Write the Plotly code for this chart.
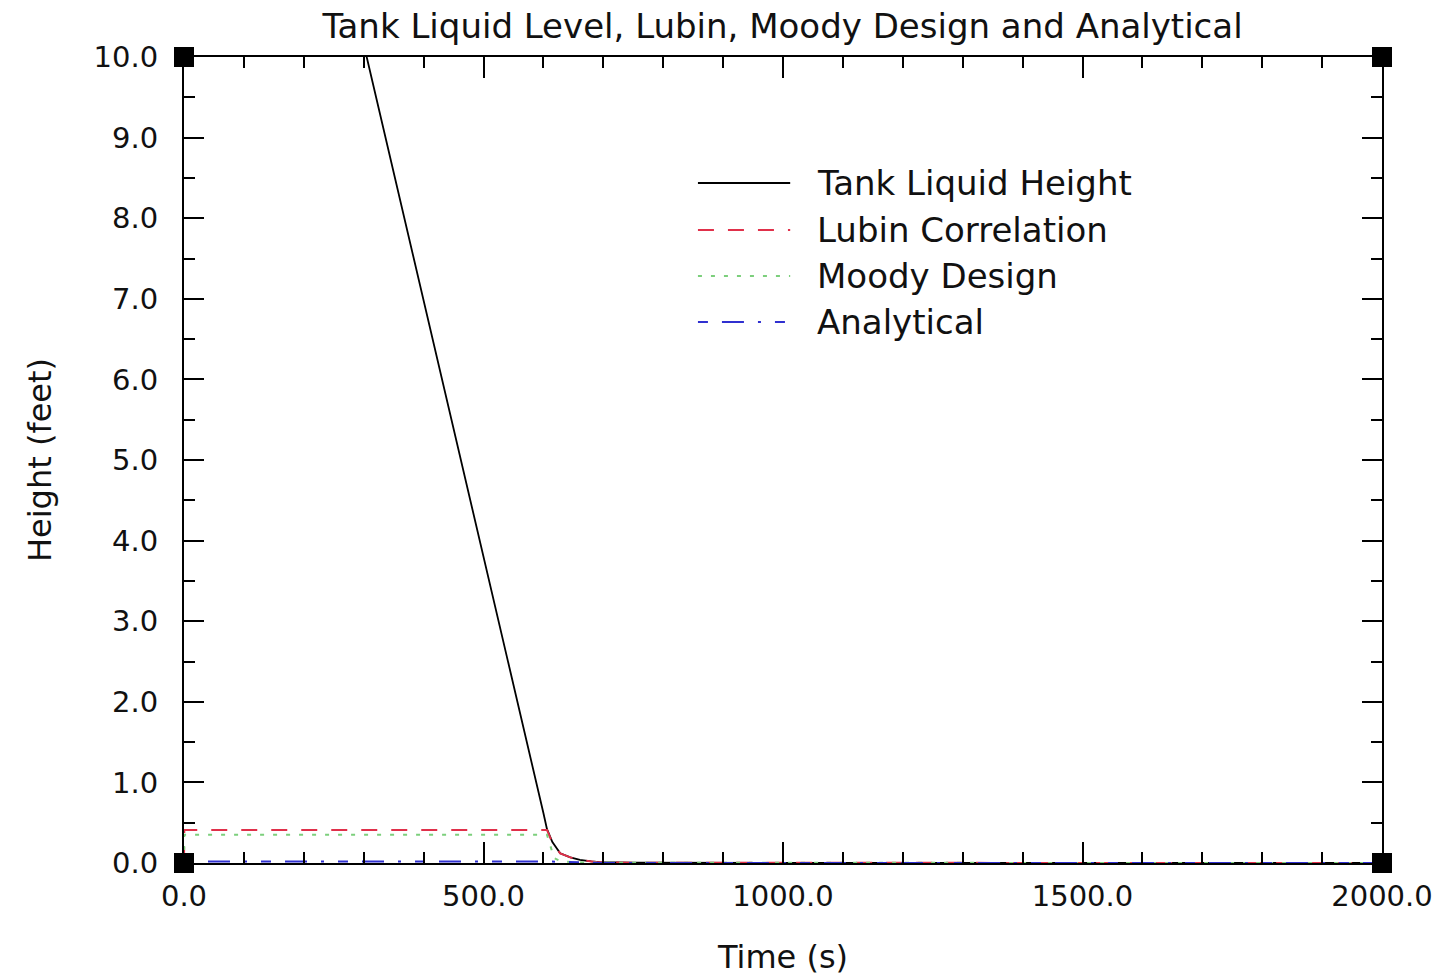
import plotly.graph_objects as go

# ---- data ----
time_tank = [0, 305, 600, 606, 615, 628, 645, 661, 680, 694, 750, 2000]
height_tank = [19.6, 10.0, 0.62, 0.42, 0.26, 0.12, 0.07, 0.04, 0.02, 0.01, 0.003, 0.0]

time_lubin = [0, 0.5, 606, 615, 628, 645, 661, 690, 750, 2000]
height_lubin = [0.0, 0.41, 0.41, 0.25, 0.12, 0.07, 0.04, 0.01, 0.003, 0.0]

time_moody = [0, 0.5, 606, 611, 618, 630, 660, 700, 2000]
height_moody = [0.0, 0.35, 0.35, 0.22, 0.06, 0.02, 0.008, 0.003, 0.0]

time_analytical = [0, 600, 700, 2000]
height_analytical = [0.02, 0.02, 0.0, 0.0]

series_names = ["Tank Liquid Height", "Lubin Correlation", "Moody Design", "Analytical"]
series_colors = ["#000000", "#e0304a", "#7ccf7c", "#3030d0"]
series_dash = ["solid", "16px,14px", "4px,9px", "10px,14px,22px,14px,3px,14px"]

x_ticks = [0, 500, 1000, 1500, 2000]
y_ticks = [0, 1, 2, 3, 4, 5, 6, 7, 8, 9, 10]

FONT = "DejaVu Sans"

fig = go.Figure()
for tx, hy, name, col, dash in zip(
    [time_tank, time_lubin, time_moody, time_analytical],
    [height_tank, height_lubin, height_moody, height_analytical],
    series_names, series_colors, series_dash,
):
    fig.add_trace(go.Scatter(x=tx, y=hy, mode="lines", name=name,
                             line=dict(color=col, width=1.8 if col == "#000000" else 2, dash=dash),
                             showlegend=False))

# manual legend (long line samples as in the reference)
leg_y = [0.8437, 0.7854, 0.7283, 0.6712]
shapes = []
annotations = []
for yy, name, col, dash in zip(leg_y, series_names, series_colors, series_dash):
    shapes.append(dict(type="line", xref="paper", yref="paper", x0=0.429, x1=0.506, y0=yy, y1=yy,
                       line=dict(color=col, width=2, dash=dash)))
    annotations.append(dict(xref="paper", yref="paper", x=0.527, y=yy, text=name, showarrow=False,
                            xanchor="left", yanchor="middle", font=dict(family=FONT, size=34, color="#111")))

# corner squares
for cx in (0, 1):
    for cy in (0, 1):
        shapes.append(dict(type="rect", xref="paper", yref="paper", xsizemode="pixel", ysizemode="pixel",
                           xanchor=cx, yanchor=cy, x0=-10, x1=10, y0=-10, y1=10,
                           fillcolor="black", line=dict(width=0)))

axis_common = dict(showgrid=False, zeroline=False, showline=True, linecolor="black", linewidth=2,
                   mirror="ticks", ticks="inside", tickcolor="black", tickwidth=2, automargin=False,
                   tickfont=dict(family=FONT, size=29, color="#111"), tickformat=".1f")

fig.update_layout(
    width=1449, height=977,
    margin=dict(l=184, r=67, t=57, b=114),
    paper_bgcolor="white", plot_bgcolor="white",
    title=dict(text="Tank Liquid Level, Lubin, Moody Design and Analytical",
               x=(290 + 1275) / 2 / 1449, xanchor="center", y=1 - 26 / 977, yanchor="middle",
               font=dict(family=FONT, size=34, color="#111")),
    xaxis=dict(range=[0, 2000], tickvals=x_ticks, ticklen=21,
               minor=dict(dtick=100, ticks="inside", ticklen=11, tickcolor="black", tickwidth=2),
               title=dict(text="Time (s)", font=dict(family=FONT, size=32, color="#111"), standoff=34),
               ticklabelstandoff=6,
               **axis_common),
    yaxis=dict(range=[0, 10], tickvals=y_ticks, ticklen=20,
               minor=dict(dtick=0.5, ticks="inside", ticklen=11, tickcolor="black", tickwidth=2),
               title=dict(text="Height (feet)", font=dict(family=FONT, size=32, color="#111"), standoff=32),
               ticklabelstandoff=18,
               **axis_common),
    shapes=shapes,
    annotations=annotations,
)

fig.write_html("out.html")
